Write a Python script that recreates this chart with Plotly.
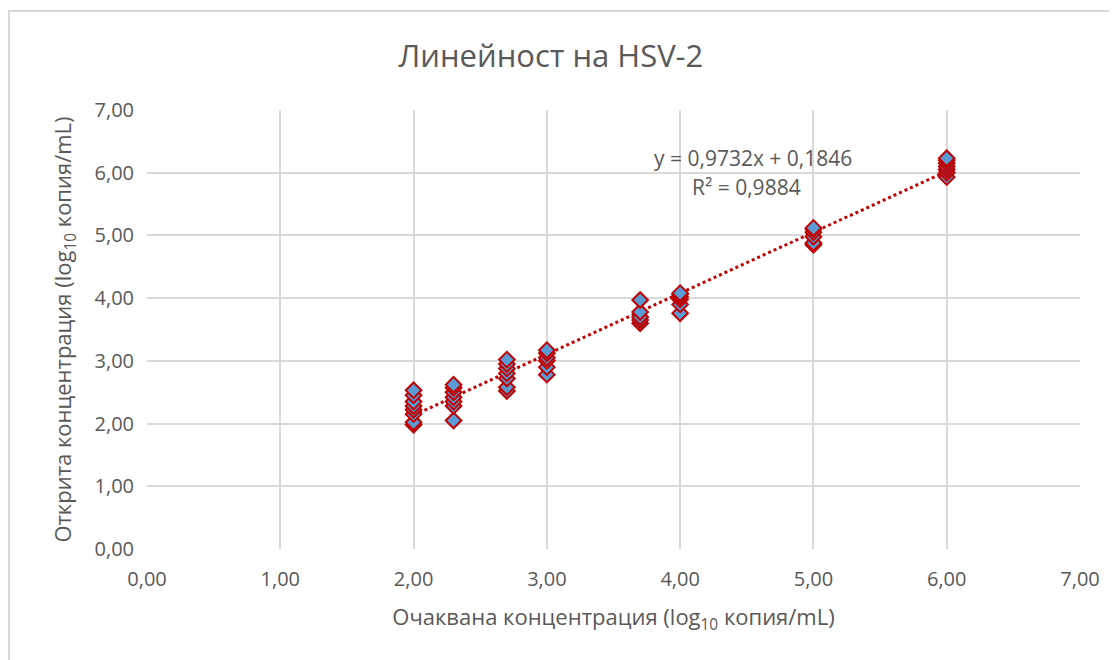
import numpy as np
import plotly.graph_objects as go

# Expected concentration (x) and found concentration (y), log10 copies/mL
x_2_0 = [2.0] * 8
y_2_0 = [1.98, 2.02, 2.15, 2.22, 2.28, 2.35, 2.45, 2.53]
x_2_3 = [2.3] * 7
y_2_3 = [2.05, 2.28, 2.35, 2.42, 2.50, 2.57, 2.62]
x_2_7 = [2.7] * 7
y_2_7 = [2.52, 2.58, 2.72, 2.80, 2.88, 2.95, 3.02]
x_3_0 = [3.0] * 6
y_3_0 = [2.78, 2.90, 3.00, 3.05, 3.12, 3.17]
x_3_7 = [3.7] * 5
y_3_7 = [3.60, 3.65, 3.70, 3.78, 3.97]
x_4_0 = [4.0] * 6
y_4_0 = [3.76, 3.90, 3.98, 4.02, 4.06, 4.08]
x_5_0 = [5.0] * 6
y_5_0 = [4.85, 4.88, 4.98, 5.05, 5.10, 5.12]
x_6_0 = [6.0] * 7
y_6_0 = [5.93, 6.00, 6.05, 6.10, 6.15, 6.20, 6.23]

slope = 0.9732
intercept = 0.1846
r_squared = 0.9884

x_all = x_2_0 + x_2_3 + x_2_7 + x_3_0 + x_3_7 + x_4_0 + x_5_0 + x_6_0
y_all = y_2_0 + y_2_3 + y_2_7 + y_3_0 + y_3_7 + y_4_0 + y_5_0 + y_6_0

tick_vals = [0, 1, 2, 3, 4, 5, 6, 7]

grey = "#595959"
font_family = "Open Sans"
fig = go.Figure()

x_line = np.array([min(x_all), max(x_all)])
fig.add_trace(go.Scatter(
    x=x_line, y=slope * x_line + intercept, mode="lines",
    line=dict(color="#C00000", width=3, dash="dot"),
    showlegend=False, hoverinfo="skip"))

fig.add_trace(go.Scatter(
    x=x_all, y=y_all, mode="markers",
    marker=dict(symbol="diamond", size=12, color="#5B9BD5",
                line=dict(color="#C00000", width=2)),
    showlegend=False))

eq_text = "y = {:.4f}x + {:.4f}".format(slope, intercept).replace(".", ",")
r2_text = "R² = {:.4f}".format(r_squared).replace(".", ",")
fig.add_annotation(x=4.55, y=6.235, xref="x", yref="y",
                   text=eq_text, showarrow=False,
                   font=dict(size=21, color=grey, family=font_family))
fig.add_annotation(x=4.50, y=5.77, xref="x", yref="y",
                   text=r2_text, showarrow=False,
                   font=dict(size=21, color=grey, family=font_family))

# outer chart-area border
fig.add_shape(type="rect", xref="paper", yref="paper",
              x0=-0.1479, x1=2.0, y0=-2.0, y1=1.2255,
              line=dict(color="#D9D9D9", width=2), layer="below")

fig.update_layout(
    width=1117, height=660,
    paper_bgcolor="white", plot_bgcolor="white",
    separators=",.",
    margin=dict(l=139, r=45, t=102, b=119, autoexpand=False),
    font=dict(family=font_family, color=grey, size=20),
    title=dict(text="Линейност на HSV-2", x=0.486, xanchor="center",
               y=0.927, yanchor="middle",
               font=dict(size=31, color=grey, family=font_family)),
    xaxis=dict(range=[0, 7], tickvals=tick_vals, tickformat=".2f",
               showgrid=True, gridcolor="#D9D9D9", gridwidth=2,
               zeroline=False, showline=False, ticks="",
               ticklabelstandoff=16,
               tickfont=dict(size=20, color=grey),
               title=dict(text="Очаквана концентрация (log<sub>10</sub> копия/mL)",
                          font=dict(size=22, color=grey), standoff=18)),
    yaxis=dict(range=[0, 7], tickvals=tick_vals, tickformat=".2f",
               showgrid=True, gridcolor="#D9D9D9", gridwidth=2,
               zeroline=False, showline=False, ticks="",
               ticklabelstandoff=12,
               tickfont=dict(size=20, color=grey),
               title=dict(text="Открита концентрация (log<sub>10</sub> копия/mL)",
                          font=dict(size=22, color=grey), standoff=16)),
)

fig.write_html("out.html")
